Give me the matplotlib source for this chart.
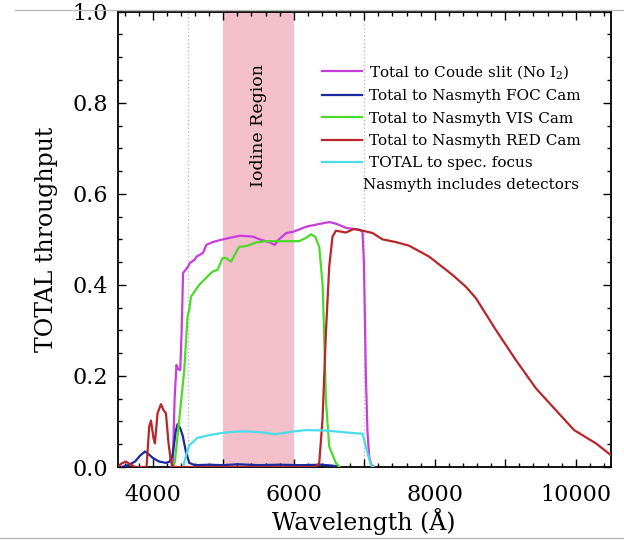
import matplotlib
matplotlib.use("Agg")
import matplotlib.pyplot as plt
from matplotlib.ticker import MultipleLocator, FuncFormatter
from matplotlib.lines import Line2D

# ---------------- data ----------------
coude_wl = [4260, 4285, 4310, 4336, 4360, 4390, 4410, 4430, 4500, 4525, 4594, 4620, 4712,
            4761, 4850, 4997, 5234, 5422, 5517, 5650, 5730, 5790, 5896, 6000, 6180, 6368,
            6510, 6605, 6747, 6935, 6975, 6995, 7010, 7023, 7045, 7070, 7100, 7140]
coude_tp = [0.0, 0.01, 0.15, 0.224, 0.215, 0.213, 0.30, 0.426, 0.44, 0.448, 0.455, 0.462, 0.47,
            0.488, 0.494, 0.50, 0.508, 0.506, 0.50, 0.494, 0.488, 0.50, 0.514, 0.517, 0.528, 0.534,
            0.538, 0.534, 0.525, 0.521, 0.517, 0.45, 0.32, 0.20, 0.08, 0.023, 0.005, 0.0]

foc_wl = [3560, 3650, 3750, 3820, 3890, 3950, 4000, 4090, 4190, 4240, 4281, 4329, 4352,
          4390, 4423, 4471, 4518, 4600, 4800, 5000, 5200, 5500, 5800, 6100, 6400, 6550, 6650]
foc_tp = [0.0, 0.004, 0.012, 0.025, 0.034, 0.027, 0.02, 0.012, 0.009, 0.012, 0.026, 0.081, 0.094,
          0.085, 0.07, 0.033, 0.009, 0.004, 0.005, 0.004, 0.006, 0.004, 0.005, 0.004, 0.005, 0.003, 0.0]

vis_wl = [4290, 4312, 4380, 4447, 4493, 4517, 4542, 4659, 4825, 4848, 4919, 4990, 5038, 5109,
          5227, 5273, 5344, 5463, 5600, 5699, 5889, 6077, 6172, 6243, 6304, 6361, 6408, 6430,
          6456, 6503, 6598, 6650]
vis_tp = [0.0, 0.01, 0.11, 0.213, 0.33, 0.345, 0.374, 0.40, 0.426, 0.429, 0.433, 0.459, 0.459, 0.451,
          0.484, 0.484, 0.486, 0.493, 0.496, 0.496, 0.496, 0.496, 0.503, 0.511, 0.506, 0.484, 0.404, 0.30,
          0.147, 0.045, 0.009, 0.0]

red_wl = [3500, 3560, 3620, 3680, 3750, 3912, 3950, 3975, 4011, 4031, 4068, 4116, 4153, 4187,
          4224, 4258, 4290, 6300, 6361, 6408, 6456, 6503, 6550, 6598, 6740, 6857, 6975, 7117,
          7259, 7449, 7637, 7921, 8251, 8441, 8583, 8867, 9150, 9434, 9717, 9977, 10285, 10500]
red_tp = [0.0, 0.008, 0.012, 0.006, 0.0, 0.0, 0.089, 0.102, 0.063, 0.052, 0.118, 0.138, 0.125, 0.118,
          0.052, 0.012, 0.0, 0.0, 0.008, 0.104, 0.294, 0.44, 0.506, 0.519, 0.515, 0.523, 0.519, 0.514,
          0.50, 0.494, 0.486, 0.462, 0.422, 0.396, 0.371, 0.301, 0.235, 0.173, 0.125, 0.081, 0.052, 0.026]

spec_wl = [4440, 4480, 4518, 4636, 4801, 4990, 5200, 5368, 5550, 5746, 5983, 6172, 6456,
           6740, 6975, 7023, 7094, 7120]
spec_tp = [0.005, 0.03, 0.048, 0.064, 0.07, 0.075, 0.078, 0.078, 0.076, 0.072, 0.078, 0.081, 0.080,
           0.076, 0.073, 0.045, 0.004, 0.0]

labels = ["Total to Coude slit (No I$_2$)", "Total to Nasmyth FOC Cam",
          "Total to Nasmyth VIS Cam", "Total to Nasmyth RED Cam", "TOTAL to spec. focus"]
note = "Nasmyth includes detectors"
iodine_range = (5000, 6000)
marker_lines = [4500, 7000]
xticks_labeled = [4000, 6000, 8000, 10000]

colors = ["#C93CDC", "#1A2A9E", "#4ADB2A", "#B8262A", "#4ADCE8"]

# ---------------- figure ----------------
plt.rcParams["font.family"] = ["DejaVu Serif"]
plt.rcParams["mathtext.fontset"] = "dejavuserif"
plt.rcParams["mathtext.default"] = "regular"

fig = plt.figure(figsize=(6.24, 5.41), dpi=100)
ax = fig.add_axes([117.5 / 624, 1 - 467 / 541, (611 - 117.5) / 624, (467 - 11.7) / 541])

ax.axvspan(*iodine_range, color="#F2BFCB", zorder=0, lw=0)
for xv in marker_lines:
    ax.axvline(xv, color="#BBBBBB", ls=":", lw=1, zorder=1)

series = [(coude_wl, coude_tp), (foc_wl, foc_tp), (vis_wl, vis_tp), (red_wl, red_tp), (spec_wl, spec_tp)]
handles = []
for (wl, tp), c, lab in zip(series, colors, labels):
    h, = ax.plot(wl, tp, color=c, lw=1.6, label=lab, zorder=3)
    handles.append(h)

ax.set_xlim(3500, 10500)
ax.set_ylim(0, 1.0)

ax.xaxis.set_major_locator(MultipleLocator(1000))
ax.xaxis.set_minor_locator(MultipleLocator(200))
ax.xaxis.set_major_formatter(FuncFormatter(lambda v, p: f"{int(v)}" if int(round(v)) in xticks_labeled else ""))
ax.yaxis.set_major_locator(MultipleLocator(0.2))
ax.yaxis.set_minor_locator(MultipleLocator(0.05))
ax.yaxis.set_major_formatter(FuncFormatter(lambda v, p: f"{v:.1f}"))

ax.tick_params(which="both", direction="in", top=True, right=True, width=1.0, color="black")
ax.tick_params(which="major", length=6)
ax.tick_params(which="minor", length=3)
ax.tick_params(axis="x", which="major", labelsize=16, pad=12)
ax.tick_params(axis="y", which="major", labelsize=16, pad=7)
for s in ax.spines.values():
    s.set_linewidth(1.3)

ax.set_xlabel("Wavelength (Å)", fontsize=17, labelpad=2)
ax.set_ylabel("TOTAL throughput", fontsize=17, labelpad=10)

ax.text(sum(iodine_range) / 2, 0.749, "Iodine Region", rotation=90, ha="center", va="center",
        fontsize=12.5)

leg = ax.legend(handles=handles, loc="upper left", bbox_to_anchor=(322 / 624, 1 - 63 / 541),
                bbox_transform=fig.transFigure, frameon=False, fontsize=11,
                handlelength=2.6, handletextpad=0.5, labelspacing=0.55,
                borderpad=0, borderaxespad=0)
fig.text(363 / 624, 1 - 185 / 541, note, fontsize=11, ha="left", va="center")

# thin grey page rules seen at the top and bottom of the picture
fig.add_artist(Line2D([15 / 624, 1], [1 - 10 / 541] * 2, transform=fig.transFigure, color="#BBBBBB", lw=1))
fig.add_artist(Line2D([0, 1], [1 - 538 / 541] * 2, transform=fig.transFigure, color="#BBBBBB", lw=1))

fig.savefig("out.png", dpi=100)
